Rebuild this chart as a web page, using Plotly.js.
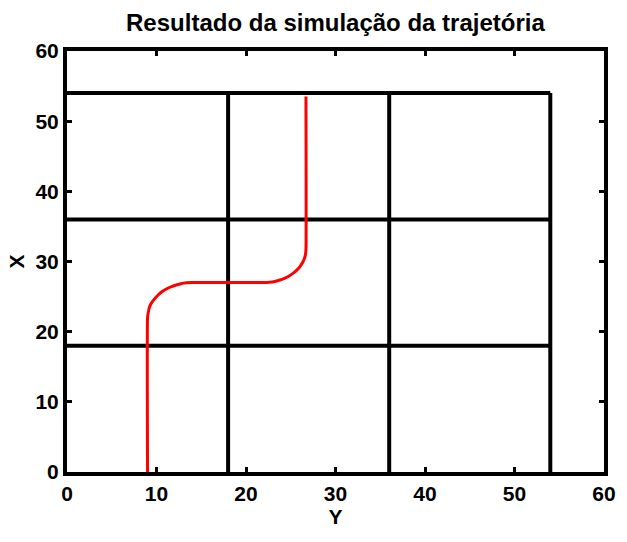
<!DOCTYPE html>
<html>
<head>
<meta charset="utf-8">
<script src="https://cdn.plot.ly/plotly-3.0.1.min.js"></script>
<style>html,body{margin:0;padding:0;background:#fff;}#chart{width:627px;height:542px;}</style>
</head>
<body>
<div id="chart"></div>
<script>
// Trajectory (horizontal axis = Y, vertical axis = X)
const trajY = [9, 9, 9.07, 9.17, 9.35, 9.67, 10.05, 10.46, 10.95, 11.5, 12.1, 12.71, 13.35, 14, 16, 18, 20, 22, 22.62, 23.22, 23.8, 24.35, 24.86, 25.32, 25.73, 26.07, 26.34, 26.54, 26.65, 26.7, 26.7];
const trajX = [0, 22, 22.65, 23.29, 23.9, 24.5, 25.05, 25.54, 25.97, 26.33, 26.62, 26.83, 26.96, 27, 27, 27, 27, 27, 27.04, 27.16, 27.36, 27.63, 27.97, 28.38, 28.84, 29.35, 29.9, 30.48, 31.08, 31.7, 53.5];

// Grid of cells (black lines)
const gridH = [18, 36, 54];   // horizontal lines at these X values
const gridV = [18, 36, 54];   // vertical lines at these Y values
const gridMin = 0;
const gridMax = 54;

const tickVals = [0, 10, 20, 30, 40, 50, 60];

const gx = [], gy = [];
gridH.forEach(v => { gx.push(gridMin, gridMax, null); gy.push(v, v, null); });
gridV.forEach(v => { gx.push(v, v, null); gy.push(gridMin, gridMax, null); });

const fam = 'Liberation Sans, Arial, sans-serif';
const tickFont = {family: fam, size: 21, color: '#000', weight: 'bold'};
const labelFont = {family: fam, size: 21, color: '#000', weight: 'bold'};
const titleFont = {family: fam, size: 24, color: '#000', weight: 'bold'};

const axisCommon = {
  range: [0, 60],
  tickvals: tickVals,
  showgrid: false,
  zeroline: false,
  showline: true,
  linecolor: '#000',
  linewidth: 4,
  mirror: 'ticks',
  ticks: 'inside',
  ticklen: 5,
  tickwidth: 3,
  tickcolor: '#000',
  tickfont: tickFont,
  fixedrange: true
};

Plotly.newPlot('chart', [
  {x: gx, y: gy, mode: 'lines', line: {color: '#000', width: 4}, hoverinfo: 'skip', showlegend: false},
  {x: trajY, y: trajX, mode: 'lines', line: {color: '#ff0000', width: 3, shape: 'spline', smoothing: 0.5}, showlegend: false}
], {
  width: 627, height: 542,
  margin: {l: 67, r: 23, t: 51, b: 70},
  paper_bgcolor: '#fff', plot_bgcolor: '#fff',
  title: {text: 'Resultado da simulação da trajetória', font: titleFont, x: 0.535, xanchor: 'center', y: 0.958, yanchor: 'middle'},
  xaxis: Object.assign({}, axisCommon, {title: {text: 'Y', font: labelFont, standoff: 0}}),
  yaxis: Object.assign({}, axisCommon, {title: {text: 'X', font: labelFont, standoff: 6}}),
  showlegend: false
}, {displayModeBar: false, staticPlot: true});
</script>
</body>
</html>
